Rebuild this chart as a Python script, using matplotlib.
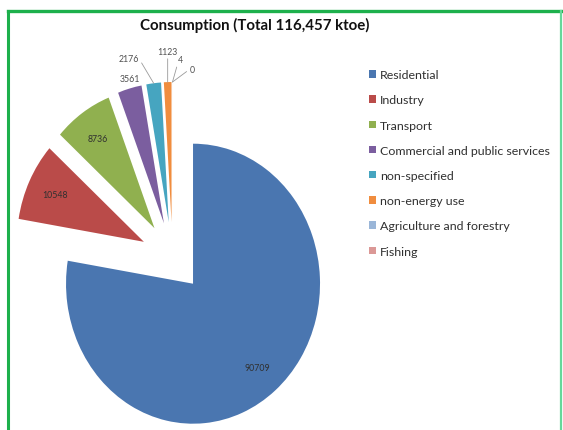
import numpy as np
import matplotlib
matplotlib.use('Agg')
import matplotlib.pyplot as plt
from matplotlib.lines import Line2D

# data
sectors = ['Residential', 'Industry', 'Transport', 'Commercial and public services',
           'non-specified', 'non-energy use', 'Agriculture and forestry', 'Fishing']
values = [90709, 10548, 8736, 3561, 2176, 1123, 4, 0]
colors = ['#4A76B0', '#BA4B49', '#90B04F', '#7B5E9F', '#46A5C0', '#F08D3E', '#9AB6D8', '#DB9896']
title = 'Consumption (Total 116,457 ktoe)'

# label placement: inside for big slices, offset (points) with leader line for small ones
inside = [True, True, True, False, False, False, False, False]
label_off = [None, None, None, (0, 7), (-18, 18), (0, 22), (6, 16), (14, 9)]
label_rel = [None, None, None, None, (1, 0.5), (0.5, 0), (0, 0.3), (0, 0.5)]

W, H = 563, 431
fig = plt.figure(figsize=(W / 100, H / 100), dpi=100)

# pie is slightly stretched vertically in the original: x unit -> 127 px, y unit -> 140 px
Rx, Ry = 127, 140
L = 1.6
Sx, Sy = 2 * L * Rx, 2 * L * Ry
cx, cy = 172.5, H - 258
ax = fig.add_axes([(cx - Sx / 2) / W, (cy - Sy / 2) / H, Sx / W, Sy / H])
wedges, _ = ax.pie(values, colors=colors, startangle=90, counterclock=False,
                   explode=[0.25] * len(values), wedgeprops=dict(linewidth=0))
ax.set_xlim(-L, L)
ax.set_ylim(-L, L)
ax.set_aspect('auto')
ax.axis('off')

for i, w in enumerate(wedges):
    ang = np.deg2rad((w.theta1 + w.theta2) / 2)
    d = np.array([np.cos(ang), np.sin(ang)])
    c = np.array(w.center)
    if inside[i]:
        p = c + 0.78 * w.r * d
        ax.text(p[0], p[1], str(values[i]), ha='center', va='center',
                fontsize=6.3, color='#303030', family='Lato')
    else:
        p = c + w.r * d
        if label_rel[i] is None:
            ax.annotate(str(values[i]), xy=p, xytext=label_off[i], textcoords='offset points',
                        ha='center', va='center', fontsize=6.3, color='#505050', family='Lato')
        else:
            ax.annotate(str(values[i]), xy=p, xytext=label_off[i], textcoords='offset points',
                        ha='center', va='center', fontsize=6.3, color='#505050', family='Lato',
                        arrowprops=dict(arrowstyle='-', color='#9A9A9A', lw=0.6,
                                        shrinkA=0, shrinkB=0, relpos=label_rel[i]))

fig.text(255 / W, 1 - 25 / H, title, ha='center', va='center',
         fontsize=10.8, fontweight='bold', family='Lato', color='#111111')

leg = fig.legend(wedges, sectors, loc='upper left', bbox_to_anchor=(363 / W, 1 - 64 / H),
                 frameon=False, handlelength=0.55, handleheight=0.55, handletextpad=0.35,
                 labelspacing=1.15, borderpad=0, prop=dict(family='Lato', size=8.9))
for t in leg.get_texts():
    t.set_color('#303030')

# green frame
fig.add_artist(Line2D([8 / W, 8 / W], [0, 1 - 12 / H], transform=fig.transFigure,
                      color='#1DB04C', lw=2.2))
fig.add_artist(Line2D([8 / W, 561 / W], [1 - 12 / H, 1 - 12 / H], transform=fig.transFigure,
                      color='#1DB04C', lw=2.4))
fig.add_artist(Line2D([561 / W, 561 / W], [0, 1 - 12 / H], transform=fig.transFigure,
                      color='#66D89A', lw=1.6))

fig.savefig('out.png', dpi=100)
